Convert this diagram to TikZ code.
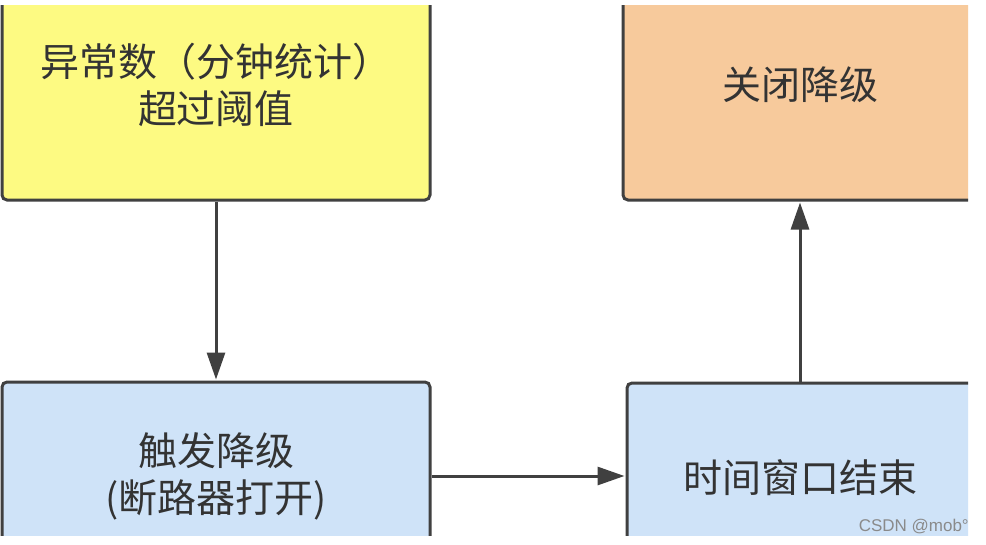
\documentclass[tikz,border=0pt]{standalone}
\usepackage{fontspec}
\newfontfamily\cjk{Noto Sans CJK SC}
\newfontfamily\wmfont{Liberation Sans}
\usetikzlibrary{arrows.meta}
\definecolor{boxyellow}{HTML}{FDFA82}
\definecolor{boxorange}{HTML}{F7CA9C}
\definecolor{boxblue}{HTML}{CFE3F8}
\definecolor{edgegray}{HTML}{404040}
\definecolor{textgray}{HTML}{333333}
\definecolor{wmgray}{HTML}{8A8A8A}
\tikzset{
  flowbox/.style={draw=edgegray, line width=3pt, rounded corners=5pt,
    align=center, text=textgray, inner sep=0pt,
    font=\cjk\fontsize{39}{47}\selectfont},
  flowarrow/.style={draw=edgegray, line width=3pt, shorten >=1pt,
    -{Triangle[length=27pt,width=18pt]}},
  watermark/.style={text=wmgray, font=\wmfont\fontsize{17}{20}\selectfont, inner sep=0pt}
}
\begin{document}
\begin{tikzpicture}[x=1pt,y=-1pt]
\useasboundingbox (0,0) rectangle (986,544);
\fill[white] (0,0) rectangle (986,544);
\begin{scope}
  \clip (0,5) rectangle (968,535);
  \node[flowbox, fill=boxyellow, minimum width=428pt, minimum height=230pt] (yellow) at (216,85) {异常数（分钟统计）\\超过阈值};
  \node[flowbox, fill=boxorange, minimum width=354pt, minimum height=230pt] (orange) at (800,85) {关闭降级};
  \node[flowbox, fill=boxblue, minimum width=428pt, minimum height=188pt] (trigger) at (216,476) {触发降级\\(断路器打开)};
  \node[flowbox, fill=boxblue, minimum width=346pt, minimum height=190pt] (window) at (800,478) {时间窗口结束};
\end{scope}
\draw[flowarrow] (yellow.south) -- (trigger.north);
\draw[flowarrow] (trigger.east) -- (trigger.east -| window.west);
\draw[flowarrow] (window.north) -- (window.north |- orange.south);
\node[watermark, anchor=east] (wm) at (969,527) {CSDN @mob°};
\end{tikzpicture}
\end{document}
